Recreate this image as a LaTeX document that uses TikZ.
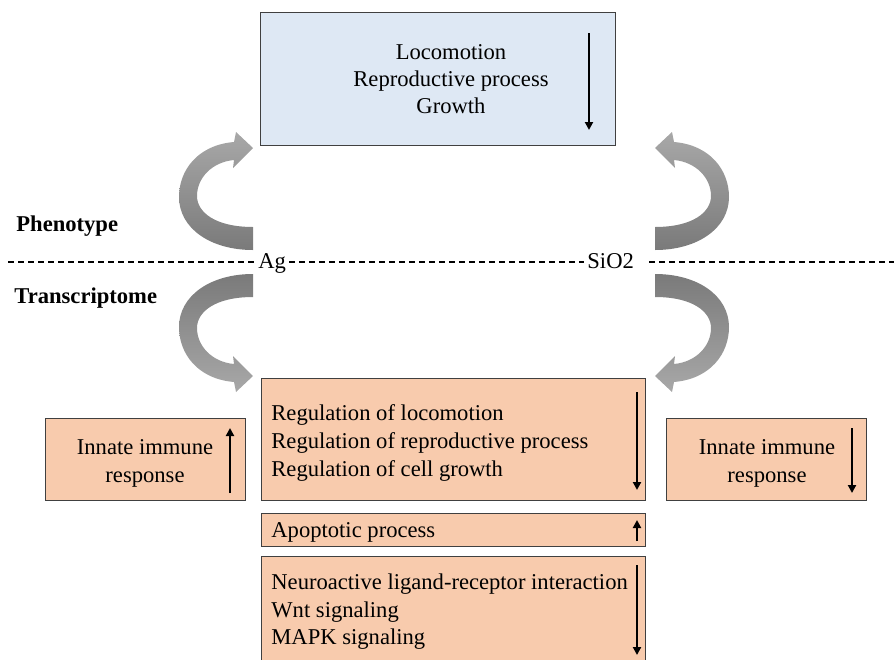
\documentclass[tikz,border=0pt]{standalone}
\usepackage{fontspec}
\setmainfont{Liberation Serif}
\usetikzlibrary{arrows.meta}
\definecolor{bluefill}{HTML}{DEE8F4}
\definecolor{orfill}{HTML}{F8CBAD}
\definecolor{edgecol}{HTML}{404040}
\definecolor{ribbonlight}{HTML}{A8A8A8}
\definecolor{ribbondark}{HTML}{7A7A7A}
\begin{document}
\begin{tikzpicture}[x=0.5pt,y=-0.5pt,
  font=\fontsize{11.3}{13.5}\selectfont,
  box/.style={draw=edgecol, line width=0.7pt, inner sep=0pt, anchor=north west},
  bluebox/.style={box, fill=bluefill},
  orbox/.style={box, fill=orfill},
  txt/.style={anchor=base west, inner sep=0pt},
  ctxt/.style={anchor=base, inner sep=0pt},
  lbl/.style={anchor=base west, inner sep=0pt, font=\fontsize{11.3}{13.5}\selectfont\bfseries},
  trend/.style={line width=1.1pt, -{Triangle[length=4pt,width=4pt]}},
  sep/.style={line width=0.6pt, dash pattern=on 3pt off 2pt},
  ribbontop/.style={top color=ribbonlight, bottom color=ribbondark},
  ribbonbot/.style={top color=ribbondark, bottom color=ribbonlight}]
\useasboundingbox (0,0) rectangle (894,659);
\clip (0,0) rectangle (894,659);

% boxes
\node[bluebox, minimum width=177.5pt, minimum height=66.5pt] (pheno) at (260,12) {};
\node[orbox, minimum width=192pt, minimum height=61pt] (reg) at (261,378) {};
\node[orbox, minimum width=192pt, minimum height=16.5pt] (apo) at (261,513) {};
\node[orbox, minimum width=192pt, minimum height=62pt] (sig) at (261,556) {};
\node[orbox, minimum width=100pt, minimum height=41pt] (agimm) at (45,418) {};
\node[orbox, minimum width=100pt, minimum height=41pt] (siimm) at (666,418) {};

% texts
\node[ctxt] (p1) at (451,59.5) {Locomotion};
\node[ctxt] (p2) at (451,86.5) {Reproductive process};
\node[ctxt] (p3) at (451,113.5) {Growth};

\node[txt] (r1) at (271,420.5) {Regulation of locomotion};
\node[txt] (r2) at (271,448.5) {Regulation of reproductive process};
\node[txt] (r3) at (271,476) {Regulation of cell growth};

\node[txt] (a1) at (271,537.5) {Apoptotic process};

\node[txt] (s1) at (271,589.5) {Neuroactive ligand-receptor interaction};
\node[txt] (s2) at (271,617) {Wnt signaling};
\node[txt] (s3) at (271,644.5) {MAPK signaling};

\node[ctxt] (l1) at (145,454.5) {Innate immune};
\node[ctxt] (l2) at (145,482) {response};
\node[ctxt] (q1) at (767,454.5) {Innate immune};
\node[ctxt] (q2) at (767,482) {response};

\node[lbl] (phenolbl) at (16,231) {Phenotype};
\node[lbl] (translbl) at (14,303) {Transcriptome};

% trend arrows
\draw[trend] (589,33) -- (589,130);
\draw[trend] (637,392) -- (637,490);
\draw[trend] (637,541) -- (637,520);
\draw[trend] (637,565) -- (637,655);
\draw[trend] (230,493) -- (230,428);
\draw[trend] (852,428) -- (852,493);

% separator with Ag and SiO2
\coordinate (dl) at (8,262);
\coordinate (dr) at (894,262);
\node[anchor=base west, inner ysep=0pt, inner xsep=1.5pt] (ag) at (255,268) {Ag};
\node[anchor=base west, inner ysep=0pt, inner xsep=1.5pt] (sio) at (584,268) {SiO2};
\draw[sep] (dl) -- (dl -| ag.west);
\draw[sep] (dl -| ag.east) -- (dl -| sio.west);
\draw[sep] ([xshift=6pt]dl -| sio.east) -- (dr);

% curved ribbon arrows
\shade[ribbontop] (253,227) .. controls (215,227) and (197,212) .. (197,196)
  .. controls (197,178) and (212,162) .. (234,160) -- (233,168) -- (253,148)
  -- (236,132) -- (234,142) .. controls (198,145) and (179,170) .. (179,197)
  .. controls (179,228) and (210,250) .. (253,250) -- cycle;
\shade[ribbonbot] (253,297) .. controls (215,297) and (197,312) .. (197,328)
  .. controls (197,346) and (212,362) .. (234,364) -- (233,356) -- (253,376)
  -- (236,392) -- (234,382) .. controls (198,379) and (179,354) .. (179,327)
  .. controls (179,296) and (210,274) .. (253,274) -- cycle;
\shade[ribbontop] (655,227) .. controls (693,227) and (711,212) .. (711,196)
  .. controls (711,178) and (696,162) .. (674,160) -- (675,168) -- (655,148)
  -- (672,132) -- (674,142) .. controls (710,145) and (729,170) .. (729,197)
  .. controls (729,228) and (698,250) .. (655,250) -- cycle;
\shade[ribbonbot] (655,297) .. controls (693,297) and (711,312) .. (711,328)
  .. controls (711,346) and (696,362) .. (674,364) -- (675,356) -- (655,376)
  -- (672,392) -- (674,382) .. controls (710,379) and (729,354) .. (729,327)
  .. controls (729,296) and (698,274) .. (655,274) -- cycle;
\end{tikzpicture}
\end{document}
